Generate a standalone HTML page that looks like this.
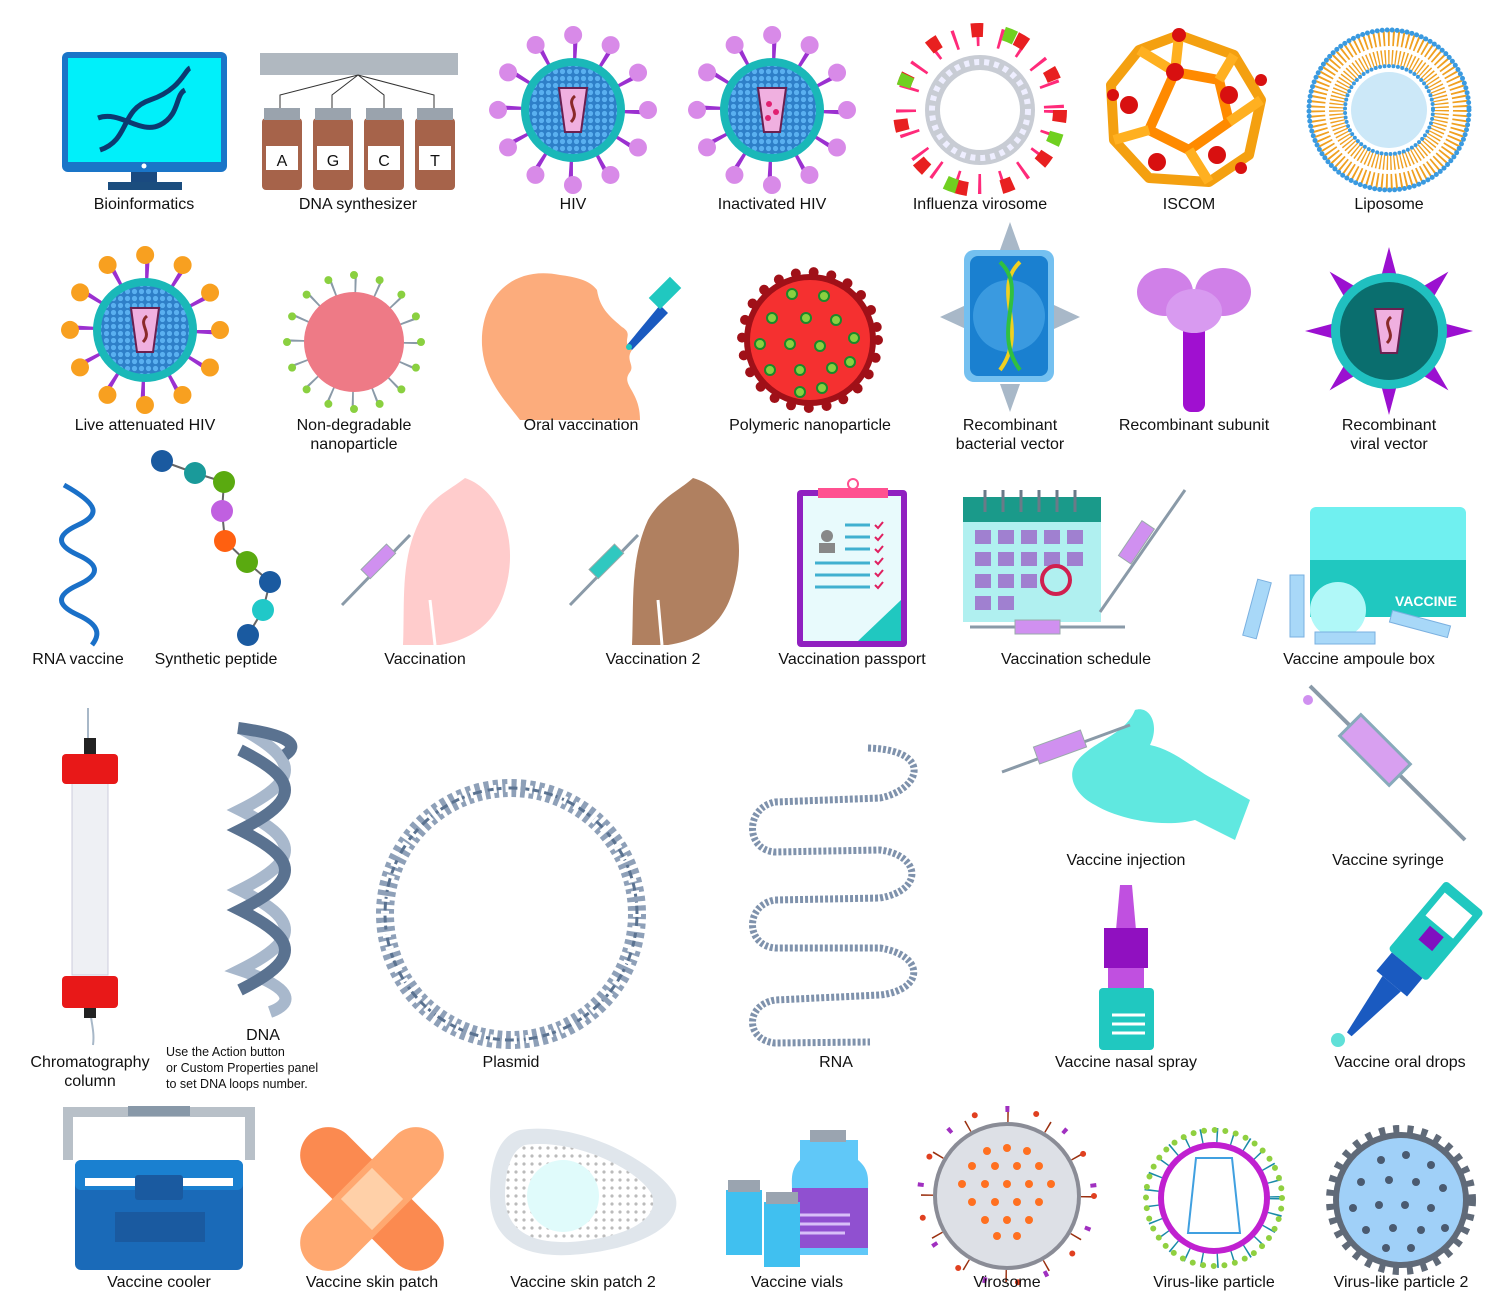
<!DOCTYPE html>
<html><head><meta charset="utf-8"><style>
html,body{margin:0;padding:0;background:#fff;}
svg{display:block}
text{font-family:"Liberation Sans",sans-serif;font-size:16px;fill:#111;text-anchor:middle}
.s{font-size:12.5px;text-anchor:start}
</style></head><body>
<svg width="1500" height="1316" viewBox="0 0 1500 1316" xmlns="http://www.w3.org/2000/svg">
<defs>
<pattern id="dots" width="7" height="7" patternUnits="userSpaceOnUse"><rect width="7" height="7" fill="#2e7fc8"/><circle cx="3.5" cy="3.5" r="2.6" fill="#5ab0f0"/></pattern>
<pattern id="gd" width="8" height="8" patternUnits="userSpaceOnUse"><rect width="8" height="8" fill="#fff"/><circle cx="4" cy="4" r="1.6" fill="#bbb"/></pattern>
</defs>

<!-- Bioinformatics -->
<rect x="62" y="52" width="165" height="120" rx="6" fill="#1a75c8"/>
<rect x="68" y="58" width="153" height="104" fill="#00f0fa"/>
<circle cx="144" cy="166" r="2.5" fill="#fff"/>
<rect x="131" y="172" width="26" height="10" fill="#1a4a80"/>
<rect x="108" y="182" width="74" height="8" fill="#1b4d7e"/>
<path d="M100 150 C130 140,120 110,150 100 S185 70,190 68" stroke="#0c3a70" stroke-width="5" fill="none"/>
<path d="M98 118 C120 110,140 135,160 125 S175 95,185 90" stroke="#0c3a70" stroke-width="5" fill="none"/>

<!-- DNA synthesizer -->
<rect x="260" y="53" width="198" height="22" fill="#b0b8c0"/>
<path d="M358 75 L280 95 L280 112 M358 75 L332 95 L332 112 M358 75 L384 95 L384 112 M358 75 L434 95 L434 112" stroke="#333" fill="none"/>
<g fill="#a6634a">
<rect x="262" y="118" width="40" height="72" rx="4"/><rect x="313" y="118" width="40" height="72" rx="4"/><rect x="364" y="118" width="40" height="72" rx="4"/><rect x="415" y="118" width="40" height="72" rx="4"/></g>
<g fill="#9aa3ad"><rect x="264" y="108" width="36" height="12"/><rect x="315" y="108" width="36" height="12"/><rect x="366" y="108" width="36" height="12"/><rect x="417" y="108" width="36" height="12"/></g>
<g fill="#fff"><rect x="266" y="146" width="32" height="24"/><rect x="317" y="146" width="32" height="24"/><rect x="368" y="146" width="32" height="24"/><rect x="419" y="146" width="32" height="24"/></g>
<g style="font-size:20px" fill="#555"><text x="282" y="166">A</text><text x="333" y="166">G</text><text x="384" y="166">C</text><text x="435" y="166">T</text></g>

<!-- HIV -->
<g transform="translate(573,110)">
<circle r="63" fill="none" stroke="#9b30d0" stroke-width="24" stroke-dasharray="4 28.99"/>
<circle r="75" fill="none" stroke="#d88ae8" stroke-width="18" stroke-linecap="round" stroke-dasharray="0 39.27"/>
<circle r="52" fill="#1ab8b8"/><circle r="44" fill="url(#dots)"/>
<path d="M-14 -22 L14 -22 L8 22 L-8 22Z" fill="#f0b0e0" stroke="#6a2050" stroke-width="2"/>
<path d="M2 -14 C-8 -6,8 2,-2 12" stroke="#8a2a2a" stroke-width="3" fill="none"/>
</g>
<!-- Inactivated HIV -->
<g transform="translate(772,110)">
<circle r="63" fill="none" stroke="#9b30d0" stroke-width="24" stroke-dasharray="4 28.99"/>
<circle r="75" fill="none" stroke="#d88ae8" stroke-width="18" stroke-linecap="round" stroke-dasharray="0 39.27"/>
<circle r="52" fill="#1ab8b8"/><circle r="44" fill="url(#dots)"/>
<path d="M-14 -22 L14 -22 L8 22 L-8 22Z" fill="#f0b0e0" stroke="#6a2050" stroke-width="2"/>
<circle cx="-3" cy="-6" r="3" fill="#e02070"/><circle cx="4" cy="2" r="3" fill="#e02070"/><circle cx="-4" cy="8" r="3" fill="#e02070"/>
</g>
<!-- Influenza virosome -->
<g transform="translate(980,110)">
<circle r="74" fill="none" stroke="#ff2a7a" stroke-width="20" stroke-dasharray="3 20"/>
<circle r="80" fill="none" stroke="#e82020" stroke-width="14" stroke-dasharray="12 34"/>
<circle r="80" fill="none" stroke="#70d020" stroke-width="14" stroke-dasharray="0 23 12 91"/>
<circle r="55" fill="#c8ccd4"/><circle r="40" fill="#fff"/>
<circle r="48" fill="none" stroke="#eef" stroke-width="6" stroke-dasharray="5 5"/>
</g>
<!-- ISCOM -->
<g transform="translate(1189,110)" stroke="#f4a010" stroke-width="10" fill="none" stroke-linejoin="round">
<polygon points="-10,-75 45,-55 72,-10 60,45 20,72 -40,68 -75,30 -78,-25 -50,-60"/>
<polygon points="-14,-38 30,-30 40,12 0,40 -40,20" stroke="#ff8a00"/>
<path d="M-10 -75 L-14 -38 M45 -55 L30 -30 M72 -10 L40 12 M20 72 L0 40 M-75 30 L-40 20 M-50 -60 L-14 -38" stroke="#ffb020"/>
<g fill="#d81010" stroke="none"><circle cx="-10" cy="-75" r="7"/><circle cx="-14" cy="-38" r="9"/><circle cx="40" cy="-15" r="9"/><circle cx="-60" cy="-5" r="9"/><circle cx="-32" cy="52" r="9"/><circle cx="28" cy="45" r="9"/><circle cx="72" cy="-30" r="6"/><circle cx="52" cy="58" r="6"/><circle cx="-76" cy="-15" r="6"/></g>
</g>
<!-- Liposome -->
<g transform="translate(1389,110)">
<circle r="62" fill="none" stroke="#f0a020" stroke-width="34" stroke-dasharray="1.6 2.5"/>
<circle r="62" fill="none" stroke="#fff" stroke-width="4"/>
<circle r="80" fill="none" stroke="#3a9ae0" stroke-width="5" stroke-linecap="round" stroke-dasharray="0 5"/>
<circle r="44" fill="none" stroke="#3a9ae0" stroke-width="4" stroke-linecap="round" stroke-dasharray="0 4.5"/>
<circle r="38" fill="#cce8f8"/>
</g>

<!-- Live attenuated HIV -->
<g transform="translate(145,330)">
<circle r="63" fill="none" stroke="#9b30d0" stroke-width="24" stroke-dasharray="4 28.99"/>
<circle r="75" fill="none" stroke="#f8a020" stroke-width="18" stroke-linecap="round" stroke-dasharray="0 39.27"/>
<circle r="52" fill="#1ab8b8"/><circle r="44" fill="url(#dots)"/>
<path d="M-14 -22 L14 -22 L8 22 L-8 22Z" fill="#f0b0e0" stroke="#6a2050" stroke-width="2"/>
<path d="M2 -14 C-8 -6,8 2,-2 12" stroke="#8a2a2a" stroke-width="3" fill="none"/>
</g>
<!-- Non-degradable -->
<g transform="translate(354,342)">
<circle r="58" fill="none" stroke="#8a9aa8" stroke-width="20" stroke-dasharray="2 20.8"/>
<circle r="67" fill="none" stroke="#8ad040" stroke-width="8" stroke-linecap="round" stroke-dasharray="0 26.3"/>
<circle r="50" fill="#ee7a86"/>
</g>
<!-- Oral vaccination -->
<path d="M560 275 C510 265,480 300,482 345 C484 380,505 400,520 420 L640 420 C640 390,620 385,630 372 C635 365,625 360,632 350 C620 340,635 335,622 327 C612 318,600 310,597 290 C590 280,575 277,560 275Z" fill="#fcac7c"/>
<path d="M627 345 L660 305 L668 313 L632 350Z" fill="#1a5ac0"/>
<rect x="650" y="285" width="30" height="16" transform="rotate(-45 665 293)" fill="#20c8c0"/>
<circle cx="629" cy="347" r="3" fill="#20c8c0"/>
<!-- Polymeric nanoparticle -->
<g transform="translate(810,340)">
<circle r="66" fill="#a01018"/>
<circle r="68" fill="none" stroke="#a01018" stroke-width="10" stroke-linecap="round" stroke-dasharray="0 18"/>
<circle r="60" fill="#f53030"/>
<g fill="#8ad040" stroke="#1a8a2a" stroke-width="2">
<circle cx="-18" cy="-46" r="5"/><circle cx="14" cy="-44" r="5"/><circle cx="-38" cy="-22" r="5"/><circle cx="-4" cy="-22" r="5"/><circle cx="26" cy="-20" r="5"/><circle cx="44" cy="-2" r="5"/><circle cx="-50" cy="4" r="5"/><circle cx="-20" cy="4" r="5"/><circle cx="10" cy="6" r="5"/><circle cx="-40" cy="30" r="5"/><circle cx="-10" cy="30" r="5"/><circle cx="22" cy="28" r="5"/><circle cx="40" cy="22" r="5"/><circle cx="-10" cy="52" r="5"/><circle cx="12" cy="48" r="5"/></g>
</g>
<!-- Recombinant bacterial vector -->
<g fill="#a8b8c8"><polygon points="1010,222 1000,250 1020,250"/><polygon points="1010,412 1000,384 1020,384"/><polygon points="940,317 966,305 966,329"/><polygon points="1080,317 1054,305 1054,329"/></g>
<rect x="964" y="250" width="90" height="132" rx="10" fill="#74c0f0"/>
<rect x="970" y="256" width="78" height="120" rx="8" fill="#1a80d0"/>
<circle cx="1009" cy="316" r="36" fill="#3a9ae0"/>
<path d="M1020 262 C990 290,1030 330,1000 370" stroke="#f0d020" stroke-width="4" fill="none"/>
<path d="M1000 262 C1030 290,990 330,1020 370" stroke="#30c040" stroke-width="4" fill="none"/>
<!-- Recombinant subunit -->
<rect x="1183" y="320" width="22" height="92" rx="8" fill="#a010d0"/>
<ellipse cx="1165" cy="292" rx="28" ry="24" fill="#d080e8"/>
<ellipse cx="1223" cy="292" rx="28" ry="24" fill="#d080e8"/>
<ellipse cx="1194" cy="311" rx="28" ry="22" fill="#d89af0"/>
<!-- Recombinant viral vector -->
<g transform="translate(1389,331)" fill="#9b10d0">
<polygon points="0,-84 -9,-50 9,-50"/>
<polygon points="0,-84 -9,-50 9,-50" transform="rotate(45)"/>
<polygon points="0,-84 -9,-50 9,-50" transform="rotate(90)"/>
<polygon points="0,-84 -9,-50 9,-50" transform="rotate(135)"/>
<polygon points="0,-84 -9,-50 9,-50" transform="rotate(180)"/>
<polygon points="0,-84 -9,-50 9,-50" transform="rotate(225)"/>
<polygon points="0,-84 -9,-50 9,-50" transform="rotate(270)"/>
<polygon points="0,-84 -9,-50 9,-50" transform="rotate(315)"/>
<circle r="58" fill="#20c0c0"/><circle r="49" fill="#0a6e6e"/>
<path d="M-14 -22 L14 -22 L8 22 L-8 22Z" fill="#f0b0e0" stroke="#6a2050" stroke-width="2"/>
<path d="M2 -14 C-8 -6,8 2,-2 12" stroke="#8a2a2a" stroke-width="3" fill="none"/>
</g>

<!-- RNA vaccine -->
<path d="M64 485 C100 505,100 515,78 525 C56 535,56 545,78 555 C100 565,100 575,78 585 C56 595,56 605,78 615 C100 625,100 635,92 645" stroke="#1a70c8" stroke-width="5" fill="none"/>
<!-- Synthetic peptide -->
<path d="M162 461 L195 473 L224 482 L222 511 L225 541 L247 562 L270 582 L263 610 L248 635" stroke="#666" stroke-width="2" fill="none"/>
<circle cx="162" cy="461" r="11" fill="#1a5aa0"/><circle cx="195" cy="473" r="11" fill="#1a9a9a"/><circle cx="224" cy="482" r="11" fill="#5aaa10"/><circle cx="222" cy="511" r="11" fill="#c060e0"/><circle cx="225" cy="541" r="11" fill="#ff6010"/><circle cx="247" cy="562" r="11" fill="#5aaa10"/><circle cx="270" cy="582" r="11" fill="#1a5aa0"/><circle cx="263" cy="610" r="11" fill="#20c8c8"/><circle cx="248" cy="635" r="11" fill="#1a5aa0"/>
<!-- Vaccination -->
<path d="M465 478 C500 490,520 540,505 590 C495 625,470 640,440 645 L403 645 C405 600,400 560,420 520 C430 498,450 490,465 478Z" fill="#ffcccc"/>
<path d="M430 600 L435 645" stroke="#fff" stroke-width="3"/>
<path d="M342 605 L410 535" stroke="#8a9aa8" stroke-width="3"/>
<rect x="360" y="555" width="36" height="13" transform="rotate(-45 378 561)" fill="#d090f0" stroke="#9aa" />
<!-- Vaccination 2 -->
<path d="M693 478 C735 490,748 540,733 590 C723 625,700 640,668 645 L632 645 C634 600,630 560,648 520 C660 498,680 490,693 478Z" fill="#b08060"/>
<path d="M658 600 L662 645" stroke="#fff" stroke-width="3"/>
<path d="M570 605 L638 535" stroke="#8a9aa8" stroke-width="3"/>
<rect x="588" y="555" width="36" height="13" transform="rotate(-45 606 561)" fill="#30c8c0" stroke="#9aa"/>
<!-- Vaccination passport -->
<rect x="797" y="490" width="110" height="157" rx="4" fill="#9020c0"/>
<rect x="803" y="496" width="98" height="145" fill="#e8fafc"/>
<rect x="818" y="488" width="70" height="10" fill="#ff5090"/>
<circle cx="853" cy="484" r="5" fill="none" stroke="#ff5090" stroke-width="2"/>
<circle cx="827" cy="536" r="6" fill="#888"/><rect x="819" y="543" width="16" height="10" fill="#888"/>
<g stroke="#40b0d0" stroke-width="3"><path d="M845 525 H870 M845 537 H870 M845 549 H870 M815 563 H870 M815 575 H870 M815 587 H870"/></g>
<g stroke="#e02060" stroke-width="2" fill="none"><path d="M875 525 l3 3 l5 -6 M875 537 l3 3 l5 -6 M875 549 l3 3 l5 -6 M875 561 l3 3 l5 -6 M875 573 l3 3 l5 -6 M875 585 l3 3 l5 -6"/></g>
<polygon points="901,600 901,641 858,641" fill="#20c8c0"/>
<!-- Vaccination schedule -->
<rect x="963" y="497" width="138" height="125" fill="#b0f0f0"/>
<rect x="963" y="497" width="138" height="25" fill="#1a9a8a"/>
<g fill="#a080d0"><rect x="975" y="530" width="16" height="14"/><rect x="998" y="530" width="16" height="14"/><rect x="1021" y="530" width="16" height="14"/><rect x="1044" y="530" width="16" height="14"/><rect x="1067" y="530" width="16" height="14"/><rect x="975" y="552" width="16" height="14"/><rect x="998" y="552" width="16" height="14"/><rect x="1021" y="552" width="16" height="14"/><rect x="1044" y="552" width="16" height="14"/><rect x="1067" y="552" width="16" height="14"/><rect x="975" y="574" width="16" height="14"/><rect x="998" y="574" width="16" height="14"/><rect x="1021" y="574" width="16" height="14"/><rect x="975" y="596" width="16" height="14"/><rect x="998" y="596" width="16" height="14"/></g>
<circle cx="1056" cy="580" r="14" fill="none" stroke="#d02050" stroke-width="4"/>
<g stroke="#6a7a88" stroke-width="3"><path d="M985 490V512 M1003 490V512 M1021 490V512 M1039 490V512 M1057 490V512 M1075 490V512"/></g>
<path d="M1100 612 L1185 490" stroke="#8a9aa8" stroke-width="3"/>
<rect x="1115" y="535" width="42" height="15" transform="rotate(-56 1136 542)" fill="#d090f0" stroke="#9aa"/>
<path d="M970 627 H1125" stroke="#8a9aa8" stroke-width="3"/>
<rect x="1015" y="620" width="45" height="14" fill="#d090f0" stroke="#9aa"/>
<!-- Vaccine ampoule box -->
<rect x="1310" y="507" width="156" height="110" rx="6" fill="#70f0f0"/>
<rect x="1310" y="560" width="156" height="57" fill="#20c8c0"/>
<circle cx="1338" cy="610" r="28" fill="#b0f8f8"/>
<text x="1426" y="606" style="font-size:14px;font-weight:bold;fill:#fff">VACCINE</text>
<g fill="#a8d8f8" stroke="#7ab0e0"><rect x="1250" y="580" width="14" height="58" transform="rotate(15 1257 609)"/><rect x="1290" y="575" width="14" height="62"/><rect x="1315" y="632" width="60" height="12"/><rect x="1390" y="618" width="60" height="12" transform="rotate(15 1420 624)"/></g>

<!-- Chromatography column -->
<path d="M88 708 L88 740 M90 1005 C90 1020,95 1030,93 1045" stroke="#a8b8c8" stroke-width="2" fill="none"/>
<rect x="84" y="738" width="12" height="18" fill="#222"/>
<rect x="72" y="780" width="36" height="195" fill="#eef0f4" stroke="#ccd"/>
<rect x="62" y="754" width="56" height="30" rx="4" fill="#e81818"/>
<rect x="62" y="976" width="56" height="32" rx="4" fill="#e81818"/>
<rect x="84" y="1008" width="12" height="10" fill="#222"/>
<!-- DNA -->
<path d="M240 728 C300 760,300 780,240 810 C300 840,300 860,240 890 C300 920,300 940,240 970 C300 990,290 1005,270 1012" stroke="#a8b8cc" stroke-width="12" fill="none"/>
<path d="M240 750 C300 780,300 800,240 830 C300 860,300 880,240 910 C300 940,300 960,240 990 M238 728 C290 735,300 745,285 755" stroke="#5a7290" stroke-width="12" fill="none"/>
<!-- Plasmid -->
<circle cx="511" cy="914" r="126" fill="none" stroke="#8ea0b8" stroke-width="18" stroke-dasharray="5 4"/>
<circle cx="511" cy="914" r="126" fill="none" stroke="#5a7290" stroke-width="3" stroke-dasharray="14 5"/>
<circle cx="511" cy="914" r="126" fill="none" stroke="#fff" stroke-width="8" stroke-dasharray="3 9"/>
<!-- RNA -->
<path d="M868 748 C935 750,920 790,880 798 L775 802 C745 808,745 850,775 852 L880 850 C920 855,925 890,880 898 L775 900 C745 905,745 945,775 948 L880 948 C925 955,925 990,880 995 L775 1000 C745 1005,745 1040,775 1043 L870 1042" stroke="#7f92ac" stroke-width="7" fill="none" stroke-dasharray="3 2"/>
<!-- Vaccine injection -->
<path d="M1078 760 C1095 740,1125 735,1135 710 C1150 705,1160 725,1150 745 C1175 750,1195 770,1215 780 L1250 800 L1235 840 L1195 820 C1165 828,1120 820,1095 805 C1075 795,1065 775,1078 760Z" fill="#60e8e0"/>
<path d="M1002 772 L1130 725" stroke="#8a9aa8" stroke-width="3"/>
<rect x="1035" y="738" width="50" height="18" transform="rotate(-20 1060 747)" fill="#d090f0" stroke="#9aa"/>
<!-- Vaccine syringe -->
<circle cx="1308" cy="700" r="5" fill="#d090f0"/>
<path d="M1310 686 L1465 840" stroke="#8a9aa8" stroke-width="4"/>
<rect x="1340" y="735" width="70" height="30" transform="rotate(45 1375 750)" fill="#d8a0f0" stroke="#8ab" stroke-width="3"/>
<!-- Nasal spray -->
<path d="M1120 885 L1132 885 L1136 930 L1116 930Z" fill="#c050e0"/>
<rect x="1104" y="928" width="44" height="40" fill="#9010c0"/>
<rect x="1108" y="968" width="36" height="20" fill="#c050e0"/>
<rect x="1099" y="988" width="55" height="62" rx="4" fill="#20c8c0"/>
<g stroke="#fff" stroke-width="3"><path d="M1112 1015H1145 M1112 1024H1145 M1112 1033H1145"/></g>
<!-- Oral drops -->
<g transform="rotate(40 1420 950)">
<rect x="1395" y="880" width="50" height="90" rx="4" fill="#20c8c0"/>
<rect x="1402" y="890" width="36" height="30" fill="#fff"/>
<rect x="1412" y="925" width="18" height="18" fill="#8010c0"/>
<rect x="1400" y="970" width="40" height="24" fill="#1a5ac0"/>
<polygon points="1408,994 1432,994 1423,1060 1417,1060" fill="#1a5ac0"/>
</g>
<circle cx="1338" cy="1040" r="7" fill="#60e0d8"/>

<!-- Vaccine cooler -->
<path d="M68 1160 V1112 H250 V1160" stroke="#b8c0c8" stroke-width="10" fill="none"/>
<rect x="128" y="1106" width="62" height="10" fill="#8898a8"/>
<rect x="75" y="1160" width="168" height="110" rx="6" fill="#1a6ab8"/>
<rect x="75" y="1160" width="168" height="30" rx="6" fill="#1a80d0"/>
<rect x="85" y="1178" width="148" height="8" fill="#fff"/>
<rect x="115" y="1212" width="90" height="30" fill="#1a5aa0"/>
<rect x="135" y="1175" width="48" height="25" rx="3" fill="#1a5aa0"/>
<!-- Skin patch -->
<g transform="translate(372,1199)">
<rect x="-90" y="-28" width="180" height="56" rx="28" transform="rotate(45)" fill="#fb8a50"/>
<rect x="-90" y="-28" width="180" height="56" rx="28" transform="rotate(-45)" fill="#ffa870"/>
<rect x="-22" y="-22" width="44" height="44" transform="rotate(45)" fill="#ffd0a8"/>
</g>
<!-- Skin patch 2 -->
<path d="M520 1130 C580 1120,660 1165,675 1195 C685 1225,640 1250,570 1255 C510 1258,490 1230,490 1195 C490 1160,500 1135,520 1130Z" fill="#e0e6ec"/>
<path d="M525 1145 C575 1138,640 1170,652 1195 C660 1220,625 1238,570 1242 C520 1244,505 1222,505 1195 C505 1168,512 1150,525 1145Z" fill="url(#gd)"/>
<circle cx="563" cy="1196" r="36" fill="#e0fbfb"/>
<!-- Vaccine vials -->
<path d="M800 1140 H858 V1160 C870 1170,868 1180,868 1190 V1255 H792 V1190 C792 1180,790 1170,800 1160Z" fill="#60c8f8"/>
<rect x="810" y="1130" width="36" height="12" fill="#9aa4b0"/>
<rect x="792" y="1188" width="76" height="60" fill="#9050d0"/>
<g stroke="#d8c0f8" stroke-width="3"><path d="M800 1215H850 M800 1224H850 M800 1233H845"/></g>
<rect x="726" y="1190" width="36" height="65" fill="#40c0f0"/><rect x="728" y="1180" width="32" height="12" fill="#9aa4b0"/>
<rect x="764" y="1202" width="36" height="65" fill="#40c0f0"/><rect x="766" y="1192" width="32" height="12" fill="#9aa4b0"/>
<!-- Virosome -->
<g transform="translate(1007,1196)">
<circle r="80" fill="none" stroke="#9a3010" stroke-width="12" stroke-dasharray="1.5 40.4"/>
<circle r="87" fill="none" stroke="#e04020" stroke-width="6" stroke-linecap="round" stroke-dasharray="0 62.8"/>
<circle r="87" fill="none" stroke="#a030c0" stroke-width="6" stroke-dasharray="0 31.4 4 27.4"/>
<circle r="74" fill="#8a8c96"/><circle r="70" fill="#dde0e6"/>
<g fill="#ff7020">
<circle cx="-20" cy="-45" r="4"/><circle cx="0" cy="-48" r="4"/><circle cx="20" cy="-45" r="4"/><circle cx="-35" cy="-30" r="4"/><circle cx="-12" cy="-30" r="4"/><circle cx="10" cy="-30" r="4"/><circle cx="32" cy="-30" r="4"/><circle cx="-45" cy="-12" r="4"/><circle cx="-22" cy="-12" r="4"/><circle cx="0" cy="-12" r="4"/><circle cx="22" cy="-12" r="4"/><circle cx="44" cy="-12" r="4"/><circle cx="-35" cy="6" r="4"/><circle cx="-12" cy="6" r="4"/><circle cx="10" cy="6" r="4"/><circle cx="32" cy="6" r="4"/><circle cx="-22" cy="24" r="4"/><circle cx="0" cy="24" r="4"/><circle cx="22" cy="24" r="4"/><circle cx="-10" cy="40" r="4"/><circle cx="10" cy="40" r="4"/></g>
</g>
<!-- Virus-like particle -->
<g transform="translate(1214,1198)">
<circle r="62" fill="none" stroke="#1a8aa8" stroke-width="16" stroke-dasharray="1.5 14"/>
<circle r="68" fill="none" stroke="#90d040" stroke-width="6" stroke-linecap="round" stroke-dasharray="0 10.7"/>
<circle r="56" fill="#c020d0"/><circle r="50" fill="#fff"/>
<path d="M-18 -40 H18 L26 35 H-26Z" fill="none" stroke="#40a0e0" stroke-width="2"/>
</g>
<!-- Virus-like particle 2 -->
<g transform="translate(1401,1200)">
<circle r="68" fill="#606a78"/>
<circle r="70" fill="none" stroke="#606a78" stroke-width="10" stroke-dasharray="6 8"/>
<circle r="62" fill="#a0d0f8"/>
<g fill="#4a5a70"><circle cx="-20" cy="-40" r="4"/><circle cx="5" cy="-45" r="4"/><circle cx="30" cy="-35" r="4"/><circle cx="-40" cy="-18" r="4"/><circle cx="-12" cy="-20" r="4"/><circle cx="15" cy="-18" r="4"/><circle cx="42" cy="-12" r="4"/><circle cx="-48" cy="8" r="4"/><circle cx="-22" cy="5" r="4"/><circle cx="4" cy="5" r="4"/><circle cx="30" cy="8" r="4"/><circle cx="-35" cy="30" r="4"/><circle cx="-8" cy="28" r="4"/><circle cx="20" cy="30" r="4"/><circle cx="-15" cy="48" r="4"/><circle cx="10" cy="48" r="4"/><circle cx="44" cy="28" r="4"/></g>
</g>

<!-- Labels -->
<text x="144" y="209">Bioinformatics</text><text x="358" y="209">DNA synthesizer</text><text x="573" y="209">HIV</text><text x="772" y="209">Inactivated HIV</text><text x="980" y="209">Influenza virosome</text><text x="1189" y="209">ISCOM</text><text x="1389" y="209">Liposome</text>
<text x="145" y="430">Live attenuated HIV</text><text x="354" y="430">Non-degradable</text><text x="354" y="449">nanoparticle</text><text x="581" y="430">Oral vaccination</text><text x="810" y="430">Polymeric nanoparticle</text><text x="1010" y="430">Recombinant</text><text x="1010" y="449">bacterial vector</text><text x="1194" y="430">Recombinant subunit</text><text x="1389" y="430">Recombinant</text><text x="1389" y="449">viral vector</text>
<text x="78" y="664">RNA vaccine</text><text x="216" y="664">Synthetic peptide</text><text x="425" y="664">Vaccination</text><text x="653" y="664">Vaccination 2</text><text x="852" y="664">Vaccination passport</text><text x="1076" y="664">Vaccination schedule</text><text x="1359" y="664">Vaccine ampoule box</text>
<text x="1126" y="865">Vaccine injection</text><text x="1388" y="865">Vaccine syringe</text>
<text x="90" y="1067">Chromatography</text><text x="90" y="1086">column</text><text x="263" y="1040">DNA</text>
<text class="s" x="166" y="1056">Use the Action button</text><text class="s" x="166" y="1072">or Custom Properties panel</text><text class="s" x="166" y="1088">to set DNA loops number.</text>
<text x="511" y="1067">Plasmid</text><text x="836" y="1067">RNA</text><text x="1126" y="1067">Vaccine nasal spray</text><text x="1400" y="1067">Vaccine oral drops</text>
<text x="159" y="1287">Vaccine cooler</text><text x="372" y="1287">Vaccine skin patch</text><text x="583" y="1287">Vaccine skin patch 2</text><text x="797" y="1287">Vaccine vials</text><text x="1007" y="1287">Virosome</text><text x="1214" y="1287">Virus-like particle</text><text x="1401" y="1287">Virus-like particle 2</text>
</svg>
</body></html>
